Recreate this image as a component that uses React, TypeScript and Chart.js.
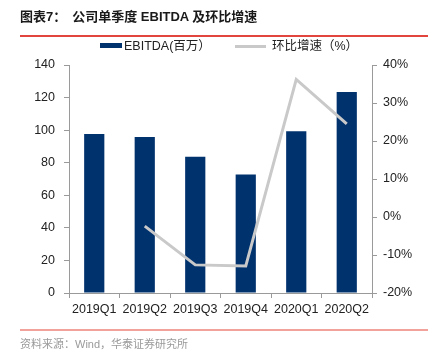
import React, { useEffect, useRef } from "react";
import { Chart, registerables } from "chart.js";

Chart.register(...registerables);

const categories = ["2019Q1", "2019Q2", "2019Q3", "2019Q4", "2020Q1", "2020Q2"];
const ebitda = [97.7, 95.8, 83.6, 72.8, 99.3, 123.4];
const qoqGrowth = [null, -2.4, -12.6, -12.9, 36.2, 24.5];
const leftTicks = [0, 20, 40, 60, 80, 100, 120, 140];
const rightTicks = [-20, -10, 0, 10, 20, 30, 40];

const FONT = "'Liberation Sans', Arial, sans-serif";
const CJK = "'Liberation Sans', 'Noto Sans CJK SC', sans-serif";
const AXIS = "#9a9a9a";

export default function App() {
  const ref = useRef<HTMLCanvasElement>(null);
  useEffect(() => {
    document.body.style.margin = "0";
    const chart = new Chart(ref.current!, {
      type: "bar",
      data: {
        labels: categories,
        datasets: [
          {
            type: "line",
            label: "环比增速（%）",
            data: qoqGrowth,
            yAxisID: "y1",
            borderColor: "#c9c9c9",
            borderWidth: 3,
            pointRadius: 0,
            tension: 0,
            order: 0,
          } as any,
          {
            type: "bar",
            label: "EBITDA(百万）",
            data: ebitda,
            yAxisID: "y",
            backgroundColor: "#00326e",
            barPercentage: 0.4,
            categoryPercentage: 1,
            order: 1,
          },
        ],
      },
      options: {
        animation: false,
        responsive: false,
        maintainAspectRatio: false,
        layout: { padding: { top: 65, left: 0, right: 0, bottom: 0 } },
        plugins: { legend: { display: false }, tooltip: { enabled: false } },
        scales: {
          x: {
            offset: true,
            grid: { display: true, drawOnChartArea: false, offset: true, color: AXIS, tickLength: 5 },
            border: { display: true, color: AXIS },
            ticks: { color: "#222", font: { family: FONT, size: 12.5 }, padding: 4, maxRotation: 0 },
            afterFit: (s: any) => { s.height = 61; },
          },
          y: {
            position: "left",
            min: 0,
            max: 140,
            afterBuildTicks: (s: any) => { s.ticks = leftTicks.map((v) => ({ value: v })); },
            grid: { display: true, drawOnChartArea: false, color: AXIS, tickLength: 5 },
            border: { display: true, color: AXIS },
            ticks: { color: "#222", font: { family: FONT, size: 12.5 }, padding: 9 },
            afterFit: (s: any) => { s.width = 69; },
          },
          y1: {
            position: "right",
            min: -20,
            max: 40,
            afterBuildTicks: (s: any) => { s.ticks = rightTicks.map((v) => ({ value: v })); },
            grid: { display: true, drawOnChartArea: false, color: AXIS, tickLength: 5 },
            border: { display: true, color: AXIS },
            ticks: {
              color: "#222",
              font: { family: FONT, size: 12.5 },
              padding: 6,
              callback: (v: any) => `${v}%`,
            },
            afterFit: (s: any) => { s.width = 60; },
          },
        },
      },
    });
    return () => chart.destroy();
  }, []);

  return (
    <div style={{ position: "fixed", left: 0, top: 0, width: 432, height: 354, background: "#fff", overflow: "hidden" }}>
      <canvas ref={ref} width={432} height={354} style={{ position: "absolute", left: 0, top: 0, width: 432, height: 354 }} />
      <div style={{ position: "absolute", left: 20, top: 8, fontFamily: CJK, fontSize: 13, fontWeight: "bold", color: "#1a1a1a", whiteSpace: "nowrap", lineHeight: "18px" }}>
        <span>图表7：</span>
        <span style={{ marginLeft: 6 }}>公司单季度 EBITDA 及环比增速</span>
      </div>
      <div style={{ position: "absolute", left: 20, top: 35, width: 408, height: 1.5, background: "#e2453d" }} />
      <div style={{ position: "absolute", left: 100, top: 43, width: 22, height: 5, background: "#00326e" }} />
      <div style={{ position: "absolute", left: 124, top: 38, fontFamily: CJK, fontSize: 12.5, color: "#222", lineHeight: "16px", whiteSpace: "nowrap" }}>EBITDA(百万）</div>
      <div style={{ position: "absolute", left: 235, top: 45, width: 31, height: 2.5, background: "#c9c9c9" }} />
      <div style={{ position: "absolute", left: 272, top: 38, fontFamily: CJK, fontSize: 12.5, color: "#222", lineHeight: "16px", whiteSpace: "nowrap" }}>环比增速（%）</div>
      <div style={{ position: "absolute", left: 20, top: 329, width: 408, height: 2, background: "#f2a29b" }} />
      <div style={{ position: "absolute", left: 20, top: 337, fontFamily: CJK, fontSize: 11, color: "#9a9a9a", lineHeight: "14px", whiteSpace: "nowrap" }}>资料来源：Wind，华泰证券研究所</div>
    </div>
  );
}
